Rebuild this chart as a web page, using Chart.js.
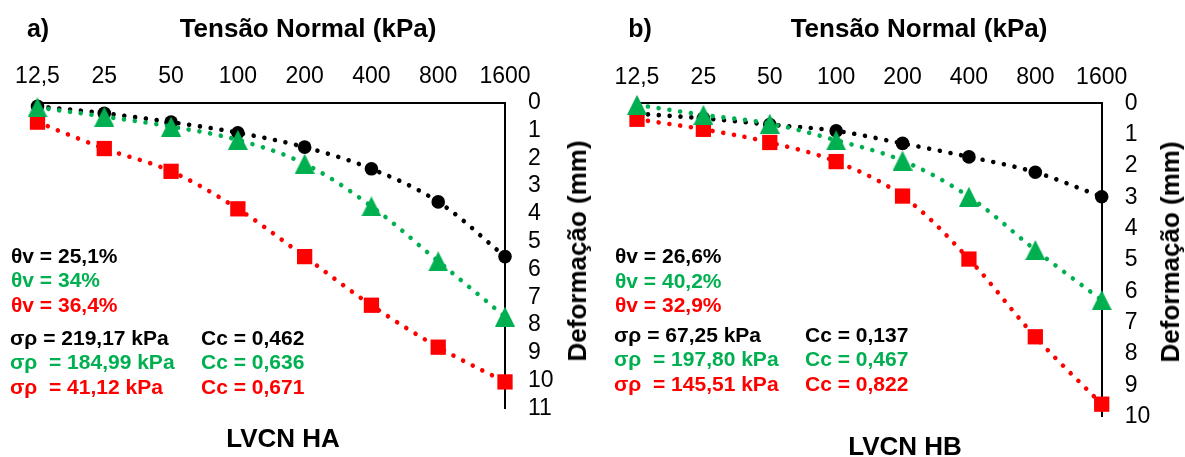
<!DOCTYPE html>
<html>
<head>
<meta charset="utf-8">
<script src="https://cdn.jsdelivr.net/npm/chart.js@4.4.1/dist/chart.umd.min.js"></script>
<style>
  html, body { margin: 0; padding: 0; background: #fff; }
  body { width: 1185px; height: 457px; position: relative; overflow: hidden;
         font-family: "Liberation Sans", Arial, sans-serif; color: #000; }
  canvas { position: absolute; top: 0; }
  .t { position: absolute; white-space: pre; font-weight: bold; line-height: 1; }
  .c { transform: translate(-50%, -50%); }
  .l { transform: translate(0, -50%); }
  .v { transform: translate(-50%, -50%) rotate(-90deg); }
  .k { color: #000; }
  .g { color: #00B050; }
  .r { color: #FF0000; }
  .n { font-size: 21px; }
</style>
</head>
<body>
<canvas id="ha" width="600" height="457" style="left:0"></canvas>
<canvas id="hb" width="585" height="457" style="left:600px"></canvas>

<!-- panel a -->
<div class="t c" style="left:38px;top:28px;font-size:25px">a)</div>
<div class="t c" style="left:308px;top:28px;font-size:26px">Tensão Normal (kPa)</div>
<div class="t v" style="left:577px;top:251px;font-size:26px">Deformação (mm)</div>
<div class="t c" style="left:283px;top:438px;font-size:26px">LVCN HA</div>
<div class="t l n k" style="left:11px;top:255px">θv = 25,1%</div>
<div class="t l n g" style="left:11px;top:279px">θv = 34%</div>
<div class="t l n r" style="left:11px;top:304px">θv = 36,4%</div>
<div class="t l n k" style="left:10px;top:337px">σρ = 219,17 kPa</div>
<div class="t l n g" style="left:10px;top:361px">σρ  = 184,99 kPa</div>
<div class="t l n r" style="left:10px;top:386px">σρ  = 41,12 kPa</div>
<div class="t l n k" style="left:201px;top:337px">Cc = 0,462</div>
<div class="t l n g" style="left:201px;top:361px">Cc = 0,636</div>
<div class="t l n r" style="left:201px;top:386px">Cc = 0,671</div>

<!-- panel b -->
<div class="t c" style="left:640px;top:28px;font-size:25px">b)</div>
<div class="t c" style="left:919px;top:28px;font-size:26px">Tensão Normal (kPa)</div>
<div class="t v" style="left:1170px;top:252px;font-size:26px">Deformação (mm)</div>
<div class="t c" style="left:905px;top:446px;font-size:26px">LVCN HB</div>
<div class="t l n k" style="left:615px;top:255px">θv = 26,6%</div>
<div class="t l n g" style="left:615px;top:280px">θv = 40,2%</div>
<div class="t l n r" style="left:615px;top:304px">θv = 32,9%</div>
<div class="t l n k" style="left:614px;top:334px">σρ = 67,25 kPa</div>
<div class="t l n g" style="left:614px;top:358px">σρ  = 197,80 kPa</div>
<div class="t l n r" style="left:614px;top:383px">σρ  = 145,51 kPa</div>
<div class="t l n k" style="left:805px;top:334px">Cc = 0,137</div>
<div class="t l n g" style="left:805px;top:358px">Cc = 0,467</div>
<div class="t l n r" style="left:805px;top:383px">Cc = 0,822</div>

<script>
// Normal stress steps (kPa) of the oedometer test
const pressures = [12.5, 25, 50, 100, 200, 400, 800, 1600];
const pressureTicks = [12.5, 25, 50, 100, 200, 400, 800, 1600];

// LVCN HA – settlement (mm) per load step
const haBlack = [0.13, 0.38, 0.70, 1.08, 1.60, 2.38, 3.57, 5.54];
const haGreen = [0.17, 0.50, 0.86, 1.34, 2.20, 3.73, 5.71, 7.70];
const haRed   = [0.70, 1.65, 2.47, 3.82, 5.54, 7.29, 8.80, 10.05];
const haMax = 11;

// LVCN HB – settlement (mm) per load step
const hbBlack = [0.33, 0.48, 0.68, 0.88, 1.28, 1.71, 2.20, 2.98];
const hbGreen = [0.05, 0.37, 0.65, 1.18, 1.83, 2.98, 4.68, 6.28];
const hbRed   = [0.51, 0.83, 1.25, 1.86, 2.96, 4.97, 7.45, 9.60];
const hbMax = 10;

const BLACK = '#000000', GREEN = '#00B050', RED = '#FF0000';
const FONT = '"Liberation Sans", Arial, sans-serif';

// isosceles triangle marker, centred on its bounding box
function triangleMarker(color) {
  const c = document.createElement('canvas');
  c.width = 20; c.height = 20;
  const g = c.getContext('2d');
  g.fillStyle = color;
  g.beginPath();
  g.moveTo(10, 0); g.lineTo(20, 20); g.lineTo(0, 20); g.closePath();
  g.fill();
  return c;
}

function series(values, color, style, radius) {
  return {
    data: pressures.map((p, i) => ({ x: p, y: values[i] })),
    borderColor: color,
    backgroundColor: color,
    pointBackgroundColor: color,
    pointBorderWidth: 0,
    pointStyle: style,
    pointRadius: radius,
    borderWidth: 4.6,
    borderDash: [0.01, 10.9],
    borderCapStyle: 'round',
    tension: 0.35,
    clip: false
  };
}

function panel(id, black, green, red, yMax, box) {
  new Chart(document.getElementById(id), {
    type: 'line',
    data: {
      datasets: [
        series(green, GREEN, triangleMarker(GREEN), 10),
        series(red, RED, 'rect', 10.8),
        series(black, BLACK, 'circle', 6.8)
      ]
    },
    options: {
      responsive: false,
      animation: false,
      devicePixelRatio: 1,
      layout: { padding: { left: box.left, top: 0, right: 0, bottom: box.bottom } },
      plugins: { legend: { display: false }, tooltip: { enabled: false } },
      scales: {
        x: {
          type: 'logarithmic',
          position: 'top',
          min: pressureTicks[0],
          max: pressureTicks[pressureTicks.length - 1],
          afterBuildTicks: (axis) => { axis.ticks = pressureTicks.map(v => ({ value: v })); },
          afterFit: (axis) => { axis.height = box.top; },
          grid: { display: false },
          border: { display: true, color: BLACK, width: 2 },
          ticks: {
            autoSkip: false, maxRotation: 0, padding: 4,
            color: BLACK, font: { family: FONT, size: 23 },
            callback: (v) => String(v).replace('.', ',')
          }
        },
        y: {
          type: 'linear',
          position: 'right',
          reverse: true,
          min: 0,
          max: yMax,
          afterFit: (axis) => { axis.width = box.axisWidth; },
          grid: { display: false },
          border: { display: true, color: BLACK, width: 2 },
          ticks: {
            stepSize: 1, padding: 15, autoSkip: false,
            color: BLACK, font: { family: FONT, size: 23 }
          }
        }
      }
    }
  });
}

panel('ha', haBlack, haGreen, haRed, haMax, { left: 37.5, top: 102.7, bottom: 48.7, axisWidth: 95 });
panel('hb', hbBlack, hbGreen, hbRed, hbMax, { left: 37, top: 103.3, bottom: 40.3, axisWidth: 83.3 });
</script>
</body>
</html>
